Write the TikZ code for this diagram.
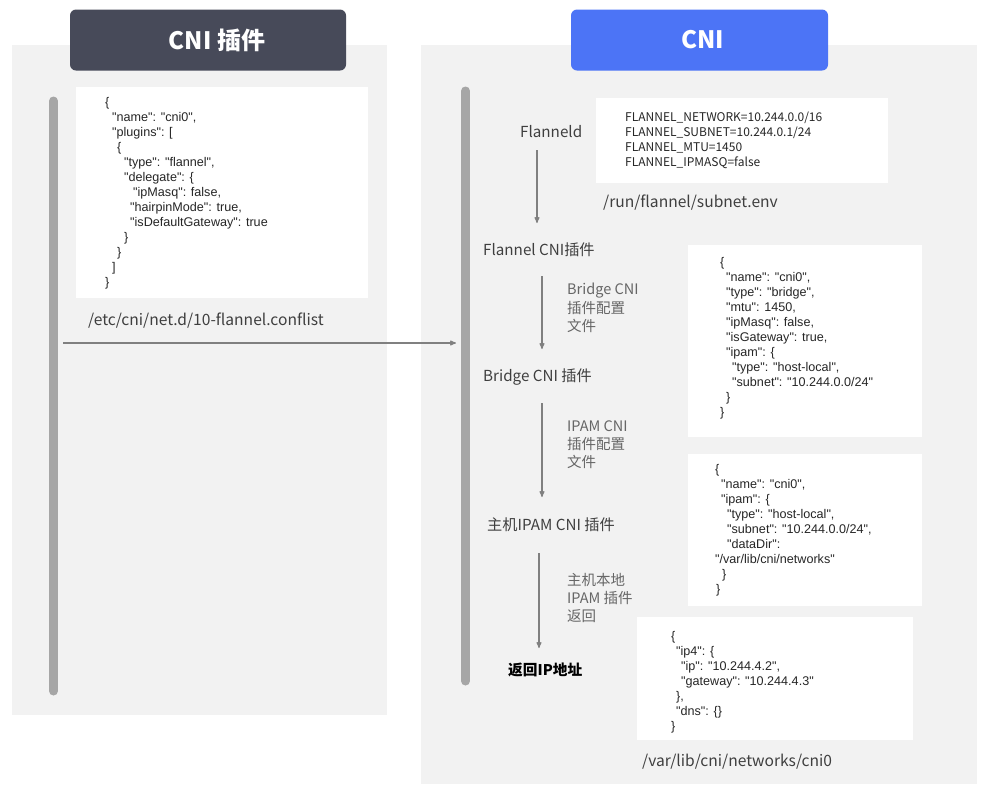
\documentclass[tikz,border=0pt]{standalone}
\usepackage{fontspec}
\setmainfont{Noto Sans CJK SC}
\newfontfamily\jsonfont{Liberation Sans}
\usetikzlibrary{arrows}
\definecolor{panelgray}{HTML}{F2F2F2}
\definecolor{titledark}{HTML}{474A59}
\definecolor{titleblue}{HTML}{4C74F6}
\definecolor{bargray}{HTML}{A6A6A6}
\definecolor{arrowgray}{HTML}{808080}
\definecolor{labelgray}{HTML}{3F3F3F}
\definecolor{notegray}{HTML}{666666}
\newcommand{\ind}[1]{\hspace*{#1pt}}

\begin{document}
\begin{tikzpicture}[x=1pt,y=-1pt,>=stealth',
  panel/.style={fill=panelgray,inner sep=0pt,anchor=north west},
  title box/.style={rounded corners=6pt,inner sep=0pt,minimum height=61pt,
    text=white,font=\fontsize{24}{28}\selectfont\bfseries},
  white box/.style={fill=white,inner sep=0pt,anchor=north west},
  json/.style={anchor=north west,align=left,inner sep=0pt,text=black!85,
    font=\jsonfont\fontsize{12.6}{15}\selectfont},
  env/.style={anchor=north west,align=left,inner sep=0pt,text=black!85,
    font=\fontsize{12}{14.8}\selectfont},
  path label/.style={anchor=west,inner sep=0pt,text=labelgray,font=\fontsize{15.6}{18}\selectfont},
  stage/.style={anchor=west,inner sep=0pt,text=labelgray,font=\fontsize{15.2}{18}\selectfont},
  note/.style={anchor=north west,align=left,inner sep=0pt,text=notegray,
    font=\fontsize{14.5}{18.3}\selectfont},
  bar/.style={bargray,line width=9pt,line cap=round},
  flow/.style={->,arrowgray,line width=1.1pt}]

  \useasboundingbox (0,0) rectangle (982,788);

  \node[panel,minimum width=375pt,minimum height=670pt] (leftpanel) at (12,45) {};
  \node[panel,minimum width=556pt,minimum height=739pt] (rightpanel) at (421,45) {};
  \node[title box,fill=titledark,minimum width=276pt] (plugintitle) at (208,40) {\hspace*{18pt}CNI 插件};
  \node[title box,fill=titleblue,minimum width=257pt] (cnititle) at (699.5,40) {\hspace*{7pt}CNI};

  \draw[bar] (53.5,101) -- (53.5,691);
  \draw[bar] (465.5,91) -- (465.5,681);

  \node[white box,minimum width=292pt,minimum height=211pt] (conflistbox) at (76,87) {};
  \node[json] (conflist) at (105,97) {%
    \{\\
    \ind{7}"name": "cni0",\\
    \ind{7}"plugins": [\\
    \ind{12}\{\\
    \ind{19}"type": "flannel",\\
    \ind{19}"delegate": \{\\
    \ind{28}"ipMasq": false,\\
    \ind{25}"hairpinMode": true,\\
    \ind{25}"isDefaultGateway": true\\
    \ind{19}\}\\
    \ind{12}\}\\
    \ind{7}]\\
    \}};
  \node[path label] (conflistpath) at (88,321) {/etc/cni/net.d/10-flannel.conflist};

  \coordinate (handoff start) at (63,343);
  \coordinate (handoff end) at (456,343);
  \draw[flow] (handoff start) -- (handoff end);

  \node[white box,minimum width=292pt,minimum height=85pt] (subnetbox) at (596,98) {};
  \node[env] (subnetenv) at (625,112) {%
    FLANNEL\_NETWORK=10.244.0.0/16\\
    FLANNEL\_SUBNET=10.244.0.1/24\\
    FLANNEL\_MTU=1450\\
    FLANNEL\_IPMASQ=false};
  \node[path label] (subnetpath) at (603,203) {/run/flannel/subnet.env};

  \node[stage] (flanneld) at (520,132) {Flanneld};
  \node[stage] (flannelcni) at (483,250) {Flannel CNI插件};
  \node[stage] (bridgecni) at (483,377) {Bridge CNI 插件};
  \node[stage] (hostipam) at (487,525) {主机IPAM CNI 插件};
  \node[stage,text=black,font=\fontsize{14.7}{18}\selectfont\bfseries] (result) at (508,670) {返回IP地址};

  \coordinate (a1 top) at (537,150);
  \coordinate (a1 bot) at (537,223);
  \coordinate (a2 top) at (542,276);
  \coordinate (a2 bot) at (542,349);
  \coordinate (a3 top) at (542,403);
  \coordinate (a3 bot) at (542,497);
  \coordinate (a4 top) at (539,553);
  \coordinate (a4 bot) at (539,648);
  \draw[flow] (a1 top) -- (a1 bot);
  \draw[flow] (a2 top) -- (a2 bot);
  \draw[flow] (a3 top) -- (a3 bot);
  \draw[flow] (a4 top) -- (a4 bot);

  \node[note] (bridgenote) at (567,283) {Bridge CNI\\插件配置\\文件};
  \node[note] (ipamnote) at (567,420) {IPAM CNI\\插件配置\\文件};
  \node[note] (returnnote) at (567,573) {主机本地\\IPAM 插件\\返回};

  \node[white box,minimum width=234pt,minimum height=192pt] (bridgebox) at (688,245) {};
  \node[json] (bridgeconf) at (720,257) {%
    \{\\
    \ind{6}"name": "cni0",\\
    \ind{6}"type": "bridge",\\
    \ind{6}"mtu": 1450,\\
    \ind{6}"ipMasq": false,\\
    \ind{6}"isGateway": true,\\
    \ind{6}"ipam": \{\\
    \ind{12}"type": "host-local",\\
    \ind{12}"subnet": "10.244.0.0/24"\\
    \ind{6}\}\\
    \}};

  \node[white box,minimum width=234pt,minimum height=152pt] (ipambox) at (688,454) {};
  \node[json] (ipamconf) at (715,464) {%
    \{\\
    \ind{6}"name": "cni0",\\
    \ind{6}"ipam": \{\\
    \ind{12}"type": "host-local",\\
    \ind{12}"subnet": "10.244.0.0/24",\\
    \ind{12}"dataDir":\\
    "/var/lib/cni/networks"\\
    \ind{7}\}\\
    \ind{1}\}};

  \node[white box,minimum width=276pt,minimum height=123pt] (resultbox) at (637,617) {};
  \node[json] (resultconf) at (671,631) {%
    \{\\
    \ind{5}"ip4": \{\\
    \ind{10}"ip": "10.244.4.2",\\
    \ind{10}"gateway": "10.244.4.3"\\
    \ind{5}\},\\
    \ind{5}"dns": \{\}\\
    \}};
  \node[path label] (resultpath) at (642,762) {/var/lib/cni/networks/cni0};
\end{tikzpicture}
\end{document}
